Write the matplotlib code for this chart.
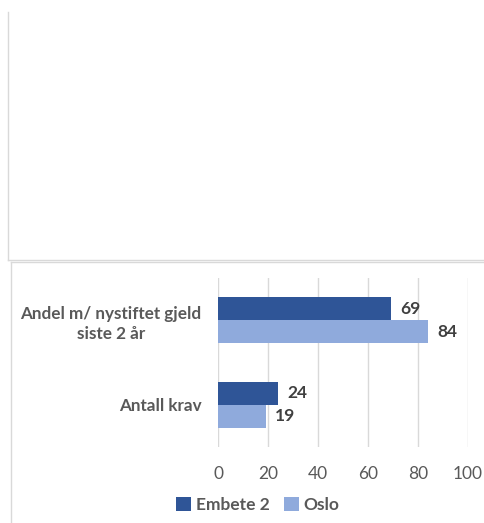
import matplotlib
matplotlib.use("Agg")
import matplotlib.pyplot as plt
from matplotlib.lines import Line2D
import numpy as np

plt.rcParams["font.family"] = ["Lato", "DejaVu Sans"]

CATEGORIES = ["Andel m/ nystiftet gjeld\nsiste 2 år", "Antall krav"]
SERIES     = ["Embete 2", "Oslo"]
VALUES     = {"Embete 2": [69, 24], "Oslo": [84, 19]}
COLORS     = {"Embete 2": "#2F5597", "Oslo": "#8FAADC"}
XTICKS     = [0, 20, 40, 60, 80, 100]

W, H = 484, 523
fig = plt.figure(figsize=(W / 100, H / 100), dpi=100)

# chart frames (two stacked chart boxes)
def frame_line(x0, y0, x1, y1):
    fig.add_artist(Line2D([x0 / W, x1 / W], [1 - y0 / H, 1 - y1 / H],
                          color="#D9D9D9", lw=1.0, transform=fig.transFigure))

frame_line(8, 12, 8, 260)
frame_line(8, 260, W, 260)
frame_line(11, 262, W, 262)
frame_line(11, 262, 11, H)

ax = fig.add_axes([218 / W, 1 - 447 / H, 250 / W, 169 / H])

y = np.arange(len(CATEGORIES))
h = 0.27
text_col = "#595959"
for i, s in enumerate(SERIES):
    offs = -h / 2 if i == 0 else h / 2
    vals = VALUES[s]
    bars = ax.barh(y + offs, vals, height=h, color=COLORS[s], label=s, zorder=3)
    for b, v in zip(bars, vals):
        ax.text(b.get_width() + 3.8, b.get_y() + b.get_height() / 2, f"{v}",
                ha="left", va="center", fontsize=12.5, fontweight="bold", color="#404040")

ax.set_ylim(len(CATEGORIES) - 0.5, -0.5)
ax.set_xlim(0, 100)
ax.set_xticks(XTICKS)
ax.set_xticklabels([str(t) for t in XTICKS], fontsize=12.5, color=text_col)
ax.set_yticks(y)
ax.set_yticklabels(CATEGORIES, fontsize=12.3, fontweight="bold", color=text_col,
                   multialignment="center", linespacing=1.35)
ax.tick_params(axis="both", length=0)
ax.tick_params(axis="y", pad=12)
ax.tick_params(axis="x", pad=14)
ax.grid(axis="x", color="#D9D9D9", lw=1.0, zorder=0)
for sp in ax.spines.values():
    sp.set_visible(False)

leg = fig.legend(loc="center", bbox_to_anchor=(258 / W, 1 - 505 / H), ncol=2,
                 frameon=False, handlelength=0.85, handleheight=0.85,
                 handletextpad=0.3, columnspacing=0.8,
                 prop={"size": 12.5, "weight": "bold"})
for t in leg.get_texts():
    t.set_color(text_col)

fig.savefig("out.png", dpi=100, facecolor="white")
